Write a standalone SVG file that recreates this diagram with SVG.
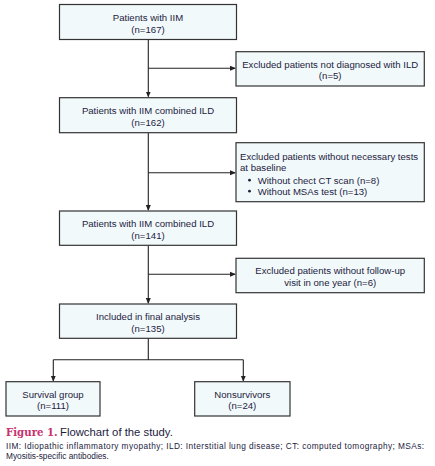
<svg xmlns="http://www.w3.org/2000/svg" width="435" height="466" viewBox="0 0 435 466">
<defs>
<style>
.box{fill:#f2f9fb;stroke:#333;stroke-width:1.2}
.t{font-family:"Liberation Sans",Arial,sans-serif;font-size:9.6px;fill:#1c2240;text-anchor:middle}
.l{font-family:"Liberation Sans",Arial,sans-serif;font-size:9.6px;fill:#1c2240}
.c{stroke:#222;stroke-width:1.1;fill:none}
</style>
<marker id="ah" markerWidth="6" markerHeight="6" refX="5" refY="3" orient="auto" markerUnits="userSpaceOnUse">
<path d="M0,0.5 L6,3 L0,5.5 Z" fill="#222"/>
</marker>
</defs>
<rect width="435" height="466" fill="#fff"/>
<g id="connectors">
<path class="c" d="M148.3,39.5 V96.5" marker-end="url(#ah)"/>
<path class="c" d="M148.3,68.3 H235" marker-end="url(#ah)"/>
<path class="c" d="M148.3,132.7 V210" marker-end="url(#ah)"/>
<path class="c" d="M148.3,172.7 H235" marker-end="url(#ah)"/>
<path class="c" d="M148.3,245.3 V303" marker-end="url(#ah)"/>
<path class="c" d="M148.3,274.3 H235" marker-end="url(#ah)"/>
<path class="c" d="M148.3,338.3 V359.7 M53.3,359.7 H243.3"/>
<path class="c" d="M53.3,359.7 V380.7" marker-end="url(#ah)"/>
<path class="c" d="M243.3,359.7 V380.7" marker-end="url(#ah)"/>
</g>
<g id="n1">
<rect class="box" x="59.5" y="4.5" width="177" height="35"/>
<text class="t" x="148" y="21">Patients with IIM</text>
<text class="t" x="148" y="32.5">(n=167)</text>
</g>
<g id="e1">
<rect class="box" x="236" y="51.7" width="188.3" height="34.3"/>
<text class="t" x="330.2" y="67.5">Excluded patients not diagnosed with ILD</text>
<text class="t" x="330.2" y="79">(n=5)</text>
</g>
<g id="n2">
<rect class="box" x="59.5" y="97.7" width="177" height="35"/>
<text class="t" x="148" y="114">Patients with IIM combined ILD</text>
<text class="t" x="148" y="125.5">(n=162)</text>
</g>
<g id="e2">
<rect class="box" x="236" y="142.7" width="188.3" height="59"/>
<text class="l" x="240" y="160">Excluded patients without necessary tests</text>
<text class="l" x="240" y="171">at baseline</text>
<circle cx="249.5" cy="180.2" r="1.4" fill="#1c2240"/>
<text class="l" x="257.7" y="183.5">Without chect CT scan (n=8)</text>
<circle cx="249.5" cy="191.2" r="1.4" fill="#1c2240"/>
<text class="l" x="257.7" y="194.5">Without MSAs test (n=13)</text>
</g>
<g id="n3">
<rect class="box" x="59.5" y="211" width="177" height="34.3"/>
<text class="t" x="148" y="227">Patients with IIM combined ILD</text>
<text class="t" x="148" y="238.5">(n=141)</text>
</g>
<g id="e3">
<rect class="box" x="236" y="258.3" width="188.3" height="34.4"/>
<text class="t" x="330.2" y="274">Excluded patients without follow-up</text>
<text class="t" x="330.2" y="285.5">visit in one year (n=6)</text>
</g>
<g id="n4">
<rect class="box" x="59.5" y="304" width="177" height="34.3"/>
<text class="t" x="148" y="320">Included in final analysis</text>
<text class="t" x="148" y="331.5">(n=135)</text>
</g>
<g id="n5">
<rect class="box" x="6" y="381.7" width="94" height="34.3"/>
<text class="t" x="53" y="397.5">Survival group</text>
<text class="t" x="53" y="409">(n=111)</text>
</g>
<g id="n6">
<rect class="box" x="194.7" y="381.7" width="95.3" height="34.3"/>
<text class="t" x="242.3" y="397.5">Nonsurvivors</text>
<text class="t" x="242.3" y="409">(n=24)</text>
</g>
<text x="6" y="435.5" font-family="'DejaVu Serif',serif" font-size="10.2" font-weight="bold" fill="#c8306e">Figure 1.</text>
<text x="60" y="435.5" font-family="'Liberation Sans',Arial,sans-serif" font-size="11.3" fill="#1c2240">Flowchart of the study.</text>
<text x="6" y="449.3" font-family="'Liberation Sans',Arial,sans-serif" font-size="8.3" fill="#1c2240" textLength="418" lengthAdjust="spacing">IIM: Idiopathic inflammatory myopathy; ILD: Interstitial lung disease; CT: computed tomography; MSAs:</text>
<text x="6" y="459" font-family="'Liberation Sans',Arial,sans-serif" font-size="8.3" fill="#1c2240">Myositis-specific antibodies.</text>
</svg>
